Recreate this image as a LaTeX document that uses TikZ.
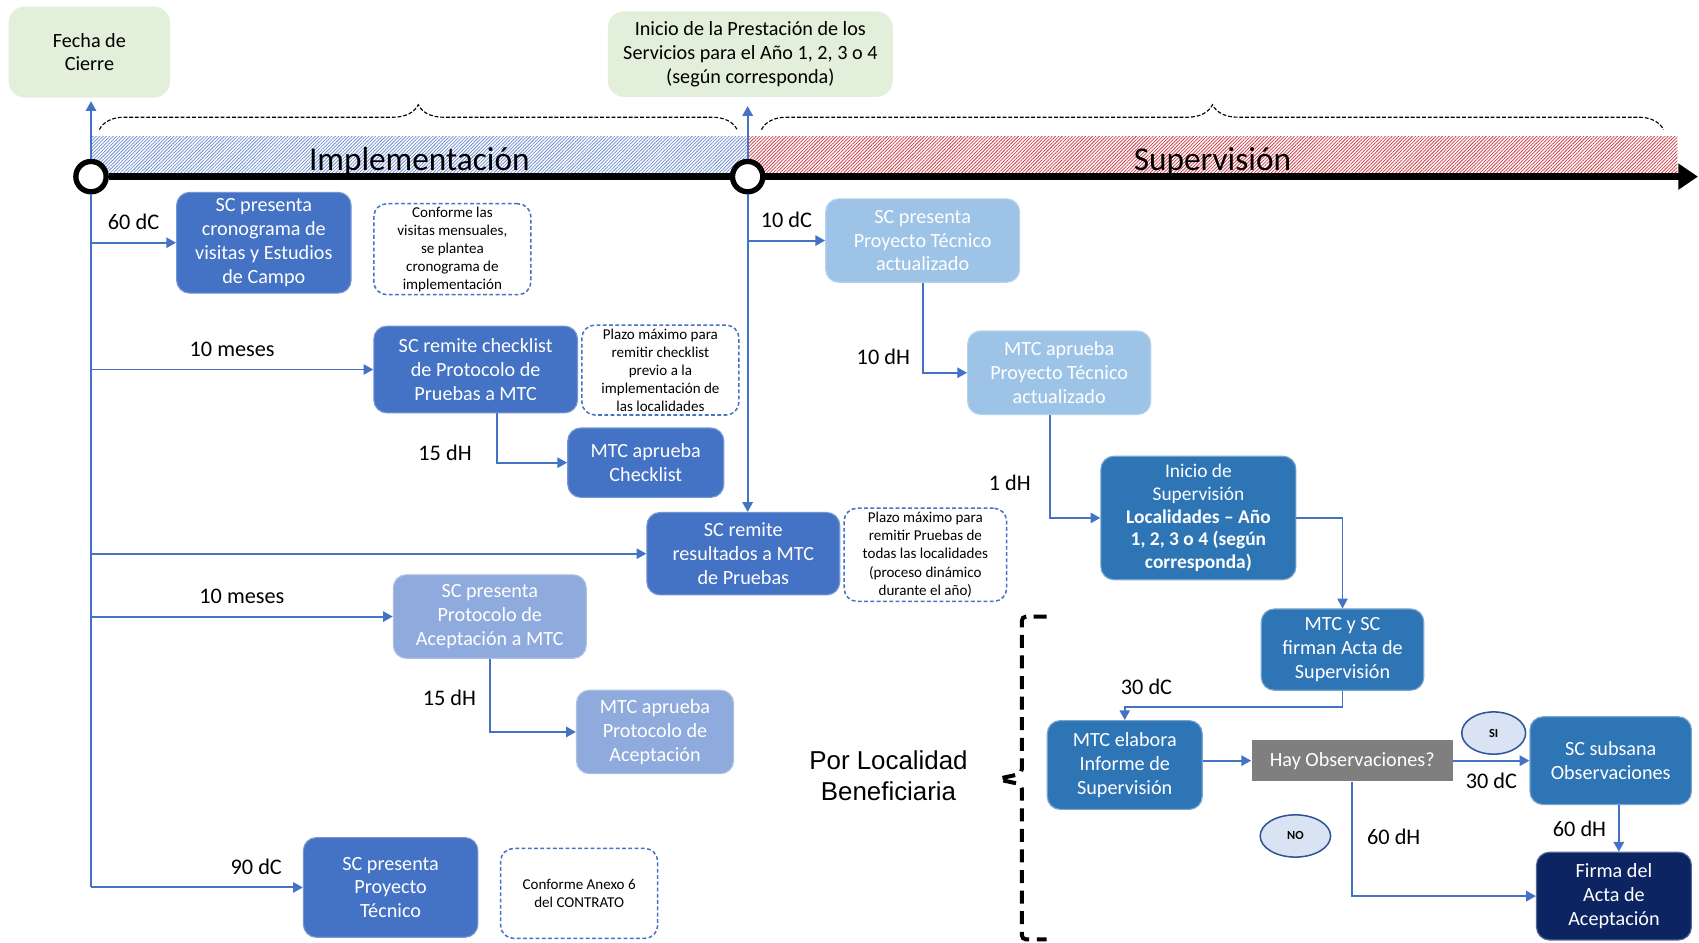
\documentclass[tikz,border=0pt]{standalone}
\usepackage{fontspec}
\setmainfont{Carlito}
\newfontfamily\arialfont{Liberation Sans}
\usepackage{tikz}
\usetikzlibrary{shapes.geometric,positioning,arrows,arrows.meta,patterns.meta,decorations.pathreplacing}
\definecolor{azul}{RGB}{68,114,196}
\definecolor{azulpal}{RGB}{143,170,220}
\definecolor{celeste}{RGB}{157,195,230}
\definecolor{azulmed}{RGB}{46,117,182}
\definecolor{marino}{RGB}{12,36,97}
\definecolor{verdecl}{RGB}{226,239,218}
\definecolor{gris}{RGB}{127,127,127}
\definecolor{bordesi}{RGB}{47,85,151}
\definecolor{fondosi}{RGB}{218,227,243}
\definecolor{rayazul}{RGB}{110,140,208}
\definecolor{rayrojo}{RGB}{205,60,70}
\newcommand{\cajafont}{\fontsize{10.6}{12.5}\selectfont}
\newcommand{\notafont}{\fontsize{7.9}{9.5}\selectfont}
\newcommand{\etiqfont}{\fontsize{11.7}{13}\selectfont}
\newcommand{\fasefont}{\fontsize{17.5}{19}\selectfont}
\newcommand{\locfont}{\arialfont\fontsize{13.6}{16}\selectfont}
\newcommand{\sinofont}{\fontsize{6.5}{7}\selectfont\bfseries}
\tikzstyle{caja} = [rectangle, rounded corners=0.24cm, text=white, align=center, font=\cajafont, inner sep=1pt, line width=0.6pt]
\tikzstyle{verde} = [rectangle, rounded corners=0.3cm, fill=verdecl, align=center, font=\cajafont, inner sep=1pt]
\tikzstyle{flecha} = [draw=azul, line width=1pt, -{Triangle[length=0.18cm,width=0.19cm]}]
\tikzset{
 dk/.style
  = {caja, fill=azul, draw=azul!75!white},
 pl/.style
  = {caja, fill=azulpal, draw=azulpal!75!white},
 ce/.style
  = {caja, fill=celeste, draw=celeste!75!white},
 md/.style
  = {caja, fill=azulmed, draw=azulmed!65!white},
 mr/.style
  = {caja, fill=marino, draw=marino!70!white},
 nota/.style
  = {rectangle, draw=azul, dash pattern=on 2pt off 1.3pt, line width=0.8pt, rounded corners=0.24cm,
     fill=white, align=center, font=\notafont, inner sep=1pt},
 pregunta/.style
  = {rectangle, fill=gris, text=white, font=\cajafont, inner sep=1pt},
 sino/.style
  = {ellipse, draw=bordesi, fill=fondosi, line width=0.8pt, font=\sinofont, inner sep=0pt},
 banda/.style
  = {rectangle, inner sep=0pt, minimum height=0.68cm, font=\fasefont, text height=0.58cm, text depth=0pt,
     pattern={Lines[angle=45,distance=1.25pt,line width=0.4pt]}},
 punto/.style
  = {circle, draw=black, line width=2.8pt, fill=white, minimum size=0.56cm, inner sep=0pt},
 eje/.style
  = {draw=black, line width=4pt},
 linea/.style
  = {draw=azul, line width=1pt},
 llave/.style
  = {draw=black, dash pattern=on 2pt off 1pt, line width=0.6pt, decorate, decoration={brace, amplitude=0.46cm}},
 corchete/.style
  = {draw=black, dash pattern=on 0.24cm off 0.14cm, line width=2.1pt, rounded corners=0.08cm},
 lbl/.style
  = {font=\etiqfont, text=black},
}
\begin{document}
\begin{tikzpicture}[x=0.02cm, y=-0.02cm]
\useasboundingbox (0,0) rectangle (1568,870);
% hitos
\node (cierre) [verde, minimum width=2.98cm, minimum height=1.68cm] at (82.5,48) {Fecha de\\Cierre};
\node (inicio) [verde, minimum width=5.26cm, minimum height=1.58cm] at (692.5,50) {Inicio de la Prestación de los\\Servicios para el Año 1, 2, 3 o 4\\(según corresponda)};
% fases
\node (impl) [banda, pattern color=rayazul, minimum width=12.12cm] at (387,143) {Implementación};
\node (superv) [banda, pattern color=rayrojo, minimum width=17.16cm] at (1119,143) {Supervisión};
\draw [llave] ([shift={(8,-6)}]impl.north west) -- ([shift={(-10,-6)}]impl.north east);
\draw [llave] ([shift={(13,-6)}]superv.north west) -- ([shift={(-13,-6)}]superv.north east);
% eje
\node (t0) [punto] at (84,163) {};
\node (t1) [punto] at (690,163) {};
\coordinate (fin) at (1567,163);
\draw [eje] (t0.east) -- (t1.west);
\draw [eje, -{Triangle[length=0.36cm,width=0.46cm]}] (t1.east) -- (fin);
\draw [flecha, shorten >=0.06cm] (t0.north) -- (t0 |- cierre.south);
\draw [flecha, shorten >=0.16cm] (t1.north) -- (t1 |- inicio.south);
% implementacion
\node (crono) [dk, minimum width=3.22cm, minimum height=1.86cm] at (243.5,224) {SC presenta\\cronograma de\\visitas y Estudios\\de Campo};
\node (nota1) [nota, minimum width=2.9cm, minimum height=1.68cm] at (417.5,230) {Conforme las\\visitas mensuales,\\se plantea\\cronograma de\\implementación};
\node (checklist) [dk, minimum width=3.76cm, minimum height=1.6cm] at (439,341) {SC remite checklist\\de Protocolo de\\Pruebas a MTC};
\node (nota2) [nota, minimum width=2.9cm, minimum height=1.66cm] at (609.5,341.5) {Plazo máximo para\\remitir checklist\\previo a la\\implementación de\\las localidades};
\node (aprchk) [dk, minimum width=2.88cm, minimum height=1.28cm] at (596,427) {MTC aprueba\\Checklist};
\node (result) [dk, minimum width=3.56cm, minimum height=1.52cm] at (686,511) {SC remite\\resultados a MTC\\de Pruebas};
\node (nota3) [nota, minimum width=3.0cm, minimum height=1.72cm] at (854,512) {Plazo máximo para\\remitir Pruebas de\\todas las localidades\\(proceso dinámico\\durante el año)};
\node (protacep) [pl, minimum width=3.56cm, minimum height=1.54cm] at (452,569) {SC presenta\\Protocolo de\\Aceptación a MTC};
\node (aprprot) [pl, minimum width=2.9cm, minimum height=1.54cm] at (604.5,675.5) {MTC aprueba\\Protocolo de\\Aceptación};
\node (proytec) [dk, minimum width=3.22cm, minimum height=1.84cm] at (360.5,819) {SC presenta\\Proyecto\\Técnico};
\node (nota4) [nota, minimum width=2.9cm, minimum height=1.66cm] at (534.5,824.5) {Conforme Anexo 6\\del CONTRATO};
\draw [linea] (t0.south) -- (t0 |- proytec.west);
\draw [flecha] (t0 |- crono.west) -- node[lbl, above=0.1cm] {60 dC} (crono.west);
\draw [flecha] (t0 |- checklist.west) -- node[lbl, above=0.1cm] {10 meses} (checklist.west);
\draw [flecha] (t0 |- result.west) -- (result.west);
\draw [flecha] (t0 |- protacep.west) -- node[lbl, above=0.1cm] {10 meses} (protacep.west);
\draw [flecha] (t0 |- proytec.west) -- node[lbl, above=0.1cm, pos=0.78] {90 dC} (proytec.west);
\draw [flecha] ([xshift=0.4cm]checklist.south) |- node[lbl, left=0.34cm, pos=0.4] {15 dH} (aprchk.west);
\draw [flecha] (protacep.south) |- node[lbl, left=0.12cm, pos=0.27] {15 dH} (aprprot.west);
% supervision
\node (proyact) [ce, minimum width=3.58cm, minimum height=1.54cm] at (851.5,222) {SC presenta\\Proyecto Técnico\\actualizado};
\node (aprproy) [ce, minimum width=3.38cm, minimum height=1.54cm] at (977.5,344) {MTC aprueba\\Proyecto Técnico\\actualizado};
\node (iniciosup) [md, minimum width=3.6cm, minimum height=2.28cm, font=\fontsize{10.2}{11.9}\selectfont] at (1106,478) {Inicio de\\Supervisión\\\textbf{Localidades -- Año}\\\textbf{1, 2, 3 o 4 (según}\\\textbf{corresponda)}};
\node (acta) [md, minimum width=3.0cm, minimum height=1.5cm] at (1239,599.5) {MTC y SC\\firman Acta de\\Supervisión};
\node (informe) [md, minimum width=2.86cm, minimum height=1.64cm] at (1038,706) {MTC elabora\\Informe de\\Supervisión};
\node (hayobs) [pregunta, minimum width=3.72cm, minimum height=0.76cm] at (1248,702) {Hay Observaciones?};
\node (subsana) [md, minimum width=2.98cm, minimum height=1.62cm] at (1486.5,702) {SC subsana\\Observaciones};
\node (firma) [mr, minimum width=2.86cm, minimum height=1.62cm] at (1489.5,827) {Firma del\\Acta de\\Aceptación};
\node (si) [sino, minimum width=1.18cm, minimum height=0.78cm] at (1378.5,676.5) {SI};
\node (no) [sino, minimum width=1.3cm, minimum height=0.78cm] at (1195.5,771.5) {NO};
\draw [flecha] (t1.south) -- (t1 |- result.north);
\draw [flecha] (t1 |- proyact.west) -- node[lbl, above=0.1cm] {10 dC} (proyact.west);
\draw [flecha] (proyact.south) |- node[lbl, left=0.1cm, pos=0.41] {10 dH} (aprproy.west);
\draw [flecha] ([xshift=-0.17cm]aprproy.south) |- node[lbl, left=0.22cm, pos=0.33] {1 dH} (iniciosup.west);
\draw [flecha, line width=0.6pt] (iniciosup.east) -| (acta.north);
\draw [flecha] (acta.south) -- ++(0,15) -| node[lbl, above=0.1cm, pos=0.45] {30 dC} (informe.north);
\draw [flecha] (informe.east |- hayobs.west) -- (hayobs.west);
\draw [flecha] (hayobs.east) -- node[lbl, below=0.1cm] {30 dC} (subsana.west);
\draw [flecha] (hayobs.south) |- node[lbl, right=0.14cm, pos=0.24] {60 dH} (firma.west);
\draw [flecha] ([xshift=0.15cm]subsana.south) -- node[lbl, left=0.1cm] {60 dH} ([xshift=0.15cm]subsana.south |- firma.north);
% por localidad
\node (porloc) [font=\locfont, align=center] at (820,716) {Por Localidad\\Beneficiaria};
\draw [corchete] (966,569) -- (943,569) -- (943,714) -- (920,719) -- (943,724) -- (943,867) -- (966,867);
\end{tikzpicture}
\end{document}
